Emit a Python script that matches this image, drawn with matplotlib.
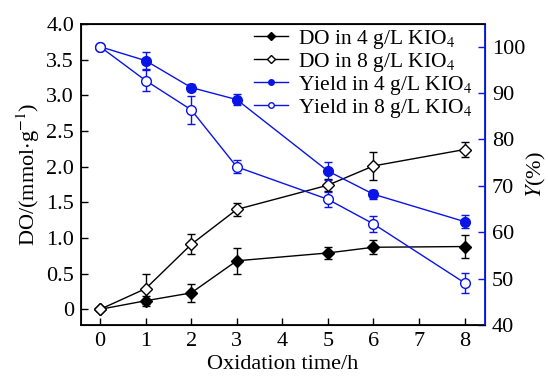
import matplotlib.pyplot as plt
from matplotlib.lines import Line2D

plt.rcParams["font.family"] = ["Liberation Serif", "DejaVu Serif"]
plt.rcParams["mathtext.fontset"] = "stix"

hours = [0, 1, 2, 3, 5, 6, 8]

do_4 = [0.0, 0.12, 0.23, 0.68, 0.79, 0.87, 0.88]
do_4_err = [0.0, 0.07, 0.13, 0.18, 0.08, 0.10, 0.16]
do_8 = [0.0, 0.29, 0.91, 1.40, 1.74, 2.01, 2.24]
do_8_err = [0.0, 0.21, 0.14, 0.09, 0.08, 0.20, 0.11]

yield_4 = [100.0, 97.0, 91.2, 88.6, 73.2, 68.2, 62.3]
yield_4_err = [0.0, 1.9, 0.8, 1.1, 2.0, 1.0, 1.4]
yield_8 = [100.0, 92.7, 86.4, 74.1, 67.1, 61.8, 49.1]
yield_8_err = [0.0, 2.2, 3.0, 1.4, 1.6, 1.7, 2.2]

BLUE = "#0a14e6"
FS = 16


def main() -> None:
    fig = plt.figure(figsize=(5.48, 3.81), dpi=100)
    ax1 = fig.add_axes([81 / 548, 1 - 325 / 381, (485 - 81) / 548, (325 - 24) / 381])
    ax2 = ax1.twinx()

    eb = dict(capsize=3, elinewidth=1.0, capthick=1.0, lw=1.0)
    ax1.errorbar(hours, do_4, yerr=do_4_err, color="black", marker="D", ms=6,
                 mfc="black", mec="black", zorder=3, **eb)
    ax1.errorbar(hours, do_8, yerr=do_8_err, color="black", marker="D", ms=6,
                 mfc="white", mec="black", zorder=3, **eb)
    ax2.errorbar(hours, yield_4, yerr=yield_4_err, color=BLUE, marker="o", ms=7,
                 mfc=BLUE, mec=BLUE, zorder=3, **eb)
    ax2.errorbar(hours, yield_8, yerr=yield_8_err, color=BLUE, marker="o", ms=7,
                 mfc="white", mec=BLUE, zorder=3, **eb)

    ax1.set_xlim(-0.42, 8.45)
    ax1.set_ylim(-0.22, 4.0)
    ax2.set_ylim(40, 104.9)
    ax1.set_xticks(range(0, 9))
    ax1.set_yticks([0, 0.5, 1.0, 1.5, 2.0, 2.5, 3.0, 3.5, 4.0])
    ax1.set_yticklabels(["0", "0.5", "1.0", "1.5", "2.0", "2.5", "3.0", "3.5", "4.0"])
    ax2.set_yticks([40, 50, 60, 70, 80, 90, 100])

    ax1.tick_params(direction="in", length=5, width=1, labelsize=FS, top=False, pad=5)
    ax2.tick_params(direction="in", length=5, width=1, labelsize=FS, color=BLUE, pad=5)
    ax2.spines["right"].set_color(BLUE)
    ax2.spines["right"].set_linewidth(1.3)
    for s in ["left", "bottom", "top"]:
        ax1.spines[s].set_linewidth(1.3)

    ax1.set_xlabel("Oxidation time/h", fontsize=FS, labelpad=3)
    ax1.set_ylabel(r"DO/(mmol$\cdot$g$^{-1}$)", fontsize=FS, labelpad=3)
    ax2.set_ylabel(r"$Y$(%)", fontsize=FS)
    ax2.yaxis.set_label_coords(1.10, 0.5)

    handles = [
        Line2D([], [], color="black", lw=1, marker="D", ms=4, mfc="black"),
        Line2D([], [], color="black", lw=1, marker="D", ms=4, mfc="white"),
        Line2D([], [], color=BLUE, lw=1, marker="o", ms=4, mfc=BLUE),
        Line2D([], [], color=BLUE, lw=1, marker="o", ms=4, mfc="white"),
    ]
    labels = ["DO in 4 g/L KIO$_4$", "DO in 8 g/L KIO$_4$",
              "Yield in 4 g/L KIO$_4$", "Yield in 8 g/L KIO$_4$"]
    ax2.legend(handles, labels, loc="upper right", bbox_to_anchor=(1.0, 1.03),
               frameon=False, fontsize=15.5, handlelength=1.6, handletextpad=0.45,
               labelspacing=0.0, borderaxespad=0.2)

    fig.savefig("out.png", dpi=100)
    plt.close(fig)


if __name__ == "__main__":
    main()
